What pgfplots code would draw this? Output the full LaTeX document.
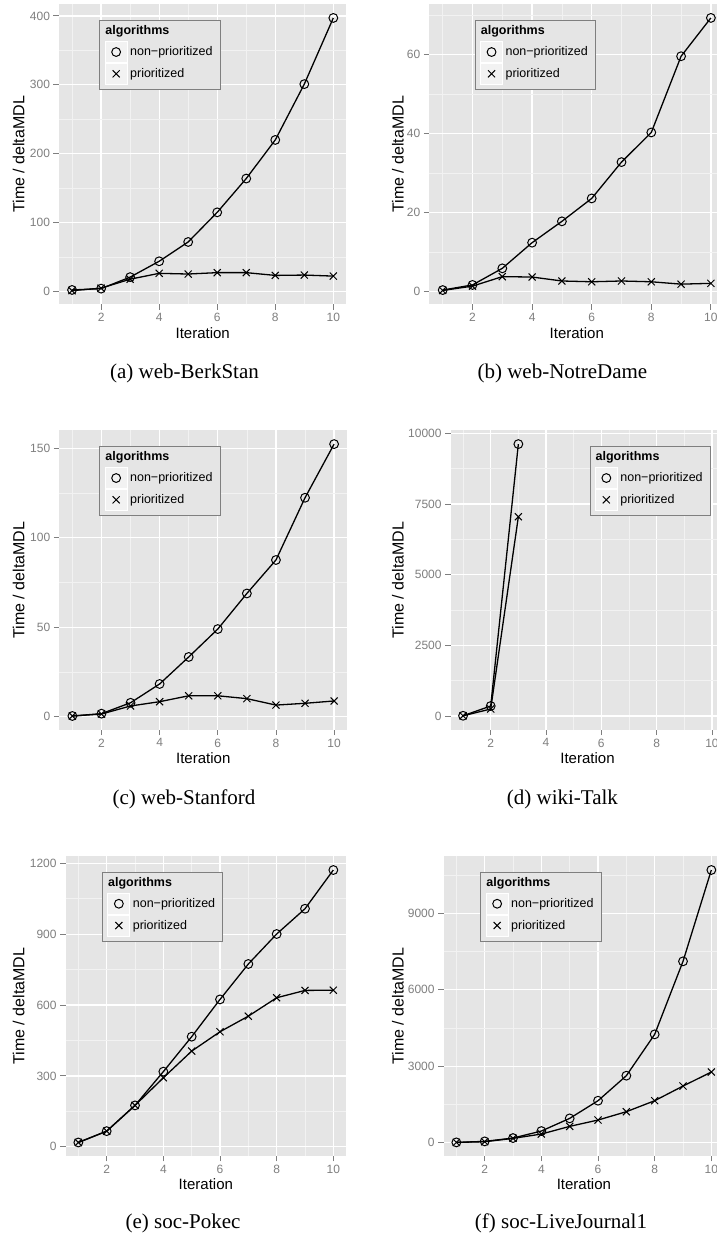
\documentclass[border=0pt]{standalone}
\usepackage{fontspec}
\setmainfont{Liberation Sans}
\newfontfamily\capfont{Liberation Serif}
\usepackage{pgfplots}
\pgfplotsset{compat=1.18}

\definecolor{panelbg}{HTML}{E5E5E5}
\definecolor{minorgrid}{HTML}{F2F2F2}
\definecolor{tickgrey}{HTML}{7F7F7F}
\definecolor{keybg}{HTML}{F2F2F2}

\pgfplotsset{
  ggpanel/.style={
    scale only axis,
    xmin=0.55, xmax=10.45,
    xtick={2,4,6,8,10}, minor xtick={1,3,5,7,9},
    axis background/.style={fill=panelbg},
    axis line style={draw=none},
    grid=both,
    major grid style={white, line width=1.3pt},
    minor grid style={minorgrid, line width=0.7pt},
    tick align=outside, tickpos=left,
    major tick length=5.5pt, minor tick length=0pt,
    tick style={tickgrey, line width=0.9pt},
    scaled ticks=false,
    /pgf/number format/1000 sep={},
    /pgf/number format/assume math mode=true,
    tick label style={font=\fontsize{12}{12}\selectfont, text=tickgrey},
    xlabel={Iteration}, ylabel={Time / deltaMDL},
    xlabel style={font=\fontsize{15}{15}\selectfont, at={(axis description cs:0.5,0)}, anchor=center, yshift=-28.4pt},
    ylabel style={font=\fontsize{16}{16}\selectfont, anchor=center},
    legend cell align=left,
    legend style={
      draw=tickgrey, line width=0.9pt, fill=panelbg,
      inner xsep=5pt, inner ysep=5pt,
      row sep=0pt, column sep=0pt,
      font=\fontsize{12.5}{12.5}\selectfont,
      cells={anchor=west},
      nodes={inner xsep=2.6pt, inner ysep=0pt, text height=9.5pt, text depth=1.9pt},
      anchor=north west,
    },
  },
  ggline/.style={
    black, line width=1.3pt,
    mark options={solid, line width=1pt},
    legend image code/.code={
      \path[fill=keybg, draw=white, line width=0.8pt] (0pt,-10.5pt) rectangle (22pt,10.5pt);
      \draw[##1, only marks] plot coordinates {(11pt,0pt)};
    },
  },
  npstyle/.style={ggline, mark=o, mark size=4.4pt},
  pstyle/.style={ggline, mark=x, mark size=5pt},
}

% legend header row shared by all panels
\newcommand{\legendhead}{%
  \addlegendimage{empty legend}
  \addlegendentry[text height=9pt, text depth=6.7pt]{\hspace*{-24.7pt}\textbf{algorithms}}%
}

\begin{document}
\begin{tikzpicture}[x=1pt,y=1pt]
\path[fill=white, use as bounding box] (0,0) rectangle (717,1237);

% (a) web-BerkStan
\begin{axis}[ggpanel, at={(59pt,932.7pt)}, anchor=south west,
  width=287.4pt, height=300pt, ymin=-18.4, ymax=416.8,
  ytick={0,100,200,300,400}, minor ytick={50,150,250,350},
  ylabel style={at={(rel axis cs:-0.1402,0.5)}},
  legend style={at={(0.1402,0.9477)}}]
\legendhead
\addplot[npstyle] coordinates {(1,2.4)(2,4.3)(3,21)(4,44)(5,72)(6,115)(7,164)(8,220)(9,301)(10,397)};
\addlegendentry{non−prioritized}
\addplot[pstyle] coordinates {(1,1.4)(2,5)(3,18)(4,26.5)(5,25.5)(6,27.5)(7,27.5)(8,23.5)(9,24)(10,22.5)};
\addlegendentry{prioritized}
\end{axis}

% (b) web-NotreDame
\begin{axis}[ggpanel, at={(429.3pt,932.7pt)}, anchor=south west,
  width=295pt, height=300pt, ymin=-3.2, ymax=72.75,
  ytick={0,20,40,60}, minor ytick={10,30,50,70},
  ylabel style={at={(rel axis cs:-0.1068,0.5)}},
  legend style={at={(0.1539,0.9477)}}]
\legendhead
\addplot[npstyle] coordinates {(1,0.4)(2,1.7)(3,5.9)(4,12.4)(5,17.8)(6,23.6)(7,32.8)(8,40.3)(9,59.6)(10,69.3)};
\addlegendentry{non−prioritized}
\addplot[pstyle] coordinates {(1,0.3)(2,1.4)(3,3.8)(4,3.7)(5,2.7)(6,2.5)(7,2.7)(8,2.5)(9,1.9)(10,2.1)};
\addlegendentry{prioritized}
\end{axis}

% (c) web-Stanford
\begin{axis}[ggpanel, at={(59.3pt,507.4pt)}, anchor=south west,
  width=287.9pt, height=299.1pt, ymin=-7.2, ymax=160,
  ytick={0,50,100,150}, minor ytick={25,75,125},
  ylabel style={at={(rel axis cs:-0.141,0.5)}},
  legend style={at={(0.1389,0.9482)}}]
\legendhead
\addplot[npstyle] coordinates {(1,0.4)(2,1.7)(3,7.8)(4,18.3)(5,33.4)(6,49)(7,68.9)(8,87.6)(9,122.4)(10,152.4)};
\addlegendentry{non−prioritized}
\addplot[pstyle] coordinates {(1,0.4)(2,1.5)(3,6)(4,8.4)(5,11.7)(6,11.7)(7,10.1)(8,6.5)(9,7.5)(10,8.8)};
\addlegendentry{prioritized}
\end{axis}

% (d) wiki-Talk
\begin{axis}[ggpanel, at={(450.6pt,507.4pt)}, anchor=south west,
  width=273.8pt, height=299.1pt, ymin=-481, ymax=10104,
  ytick={0,2500,5000,7500,10000}, minor ytick={1250,3750,6250,8750},
  ylabel style={at={(rel axis cs:-0.1921,0.5)}},
  legend style={at={(0.5073,0.9482)}}]
\legendhead
\addplot[npstyle] coordinates {(1,8)(2,354)(3,9623)};
\addlegendentry{non−prioritized}
\addplot[pstyle] coordinates {(1,6)(2,248)(3,7052)};
\addlegendentry{prioritized}
\end{axis}

% (e) soc-Pokec
\begin{axis}[ggpanel, at={(65.6pt,81pt)}, anchor=south west,
  width=280.5pt, height=299.6pt, ymin=-39.3, ymax=1229.7,
  ytick={0,300,600,900,1200}, minor ytick={150,450,750,1050},
  ylabel style={at={(rel axis cs:-0.1672,0.5)}},
  legend style={at={(0.1298,0.9489)}}]
\legendhead
\addplot[npstyle] coordinates {(1,18)(2,66)(3,175)(4,318)(5,466)(6,624)(7,774)(8,901)(9,1008)(10,1172)};
\addlegendentry{non−prioritized}
\addplot[pstyle] coordinates {(1,18)(2,66)(3,175)(4,292)(5,405)(6,487)(7,553)(8,631)(9,662)(10,663)};
\addlegendentry{prioritized}
\end{axis}

% (f) soc-LiveJournal1
\begin{axis}[ggpanel, at={(443.6pt,81pt)}, anchor=south west,
  width=280.5pt, height=299.6pt, ymin=-521, ymax=11235,
  ytick={0,3000,6000,9000}, minor ytick={1500,4500,7500,10500},
  ylabel style={at={(rel axis cs:-0.1626,0.5)}},
  legend style={at={(0.1308,0.9489)}}]
\legendhead
\addplot[npstyle] coordinates {(1,13)(2,52)(3,183)(4,458)(5,955)(6,1648)(7,2630)(8,4252)(9,7117)(10,10701)};
\addlegendentry{non−prioritized}
\addplot[pstyle] coordinates {(1,13)(2,39)(3,170)(4,340)(5,641)(6,890)(7,1217)(8,1648)(9,2224)(10,2773)};
\addlegendentry{prioritized}
\end{axis}

% sub-figure captions
\begin{scope}[every node/.style={font=\capfont\fontsize{21}{21}\selectfont}]
\node at (184.5,864) {(a) web-BerkStan};
\node at (562.4,864) {(b) web-NotreDame};
\node at (184,438) {(c) web-Stanford};
\node at (562.4,438) {(d) wiki-Talk};
\node at (183,14) {(e) soc-Pokec};
\node at (561,14) {(f) soc-LiveJournal1};
\end{scope}
\end{tikzpicture}
\end{document}
